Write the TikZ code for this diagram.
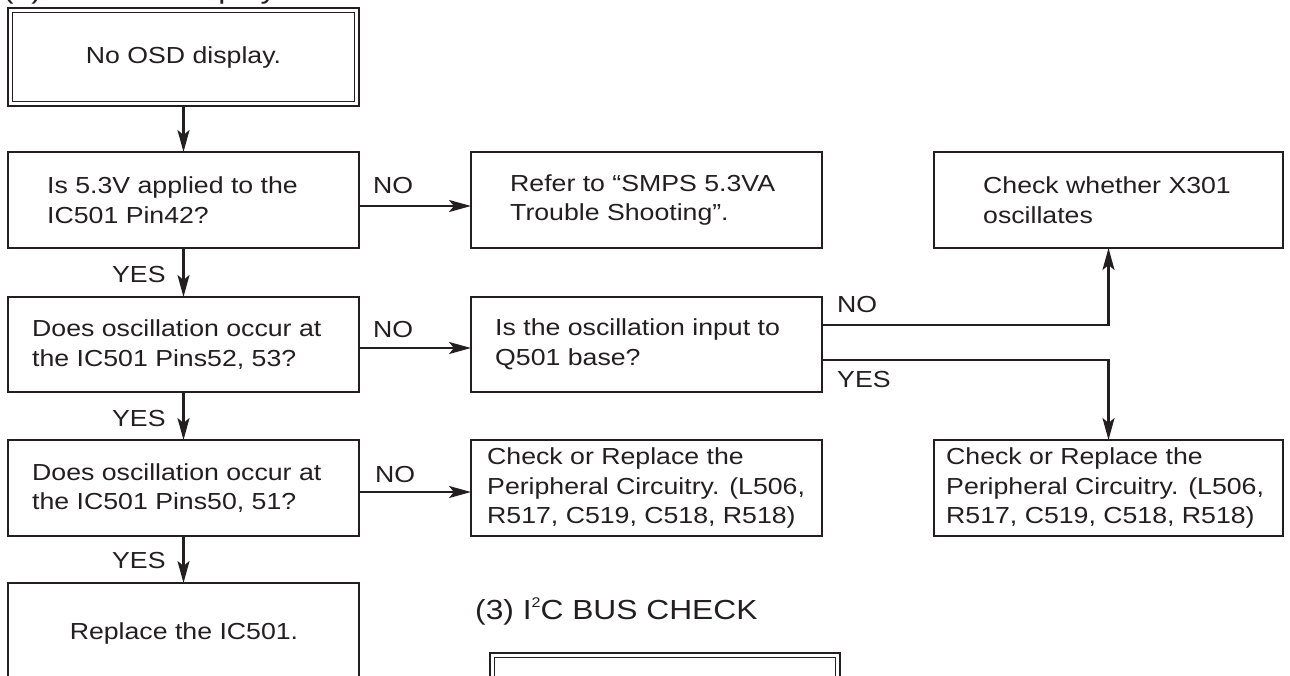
\documentclass[tikz,border=0pt]{standalone}
\usepackage{fontspec}
\setmainfont{Liberation Sans}[FakeStretch=1.15]
\usetikzlibrary{arrows.meta}
\definecolor{ink}{HTML}{231F20}
\begin{document}
\begin{tikzpicture}[x=1pt,y=-1pt,line join=miter,
  box/.style={draw=ink, line width=2pt, anchor=north west, inner sep=0pt, outer sep=0pt},
  dbox/.style={box, line width=2.7pt},
  txt/.style={text=ink, font=\fontsize{23.2}{29.5}\selectfont, align=left, inner sep=0pt, anchor=west},
  ctxt/.style={text=ink, font=\fontsize{23.2}{29.5}\selectfont, inner sep=0pt},
  lbl/.style={text=ink, font=\fontsize{23.2}{25}\selectfont, inner sep=0pt, anchor=base west},
  head/.style={text=ink, font=\fontsize{27.6}{30}\selectfont, inner sep=0pt, anchor=base west},
  arr/.style={draw=ink, line width=2.3pt, -{Stealth[length=22pt,width=12pt,inset=5pt]}}]
\fill[white] (0,0) rectangle (1290,675);
\useasboundingbox (0,0) rectangle (1290,675);
\clip (0,0) rectangle (1290,675);

% heading (cut off at the top)
\node[head] (h2) at (3,-2) {(2) No OSD display};

% boxes
\node[dbox, minimum width=351pt, minimum height=98pt] (A) at (8,8) {};
\draw[ink, line width=1.2pt] ([shift={(4.3pt,-4.3pt)}]A.north west) rectangle ([shift={(-4.3pt,4.3pt)}]A.south east);
\node[ctxt] (At) at (A.center) {No OSD display.};

\node[box, minimum width=351pt, minimum height=96pt] (B) at (8,152) {};
\node[txt] (Bt) at ([xshift=39pt]B.west) {Is 5.3V applied to the\\IC501 Pin42?};

\node[box, minimum width=351pt, minimum height=96pt] (C) at (471,152) {};
\node[txt] (Ct) at ([xshift=39pt]C.west) {Refer to “SMPS 5.3VA\\Trouble Shooting”.};

\node[box, minimum width=349pt, minimum height=96pt] (D) at (934,152) {};
\node[txt] (Dt) at ([xshift=49pt]D.west) {Check whether X301\\oscillates};

\node[box, minimum width=351pt, minimum height=95pt] (E) at (8,297) {};
\node[txt] (Et) at ([xshift=24pt]E.west) {Does oscillation occur at\\the IC501 Pins52, 53?};

\node[box, minimum width=351pt, minimum height=95pt] (F) at (471,297) {};
\node[txt] (Ft) at ([xshift=24pt]F.west) {Is the oscillation input to\\Q501 base?};

\node[box, minimum width=351pt, minimum height=96pt] (G) at (8,440) {};
\node[txt] (Gt) at ([xshift=24pt]G.west) {Does oscillation occur at\\the IC501 Pins50, 51?};

\node[box, minimum width=351pt, minimum height=96pt] (H) at (471,440) {};
\node[txt] (Ht) at ([xshift=16pt]H.west) {Check or Replace the\\Peripheral Circuitry. (L506,\\R517, C519, C518, R518)};

\node[box, minimum width=349pt, minimum height=96pt] (I) at (934,440) {};
\node[txt] (It) at ([xshift=12pt]I.west) {Check or Replace the\\Peripheral Circuitry. (L506,\\R517, C519, C518, R518)};

\node[box, minimum width=351pt, minimum height=110pt] (J) at (8,583) {};
\node[ctxt] (Jt) at (184,633) {Replace the IC501.};

\node[head] (h3) at (475,619) {(3) I\raisebox{0.4em}{\fontsize{14}{14}\selectfont 2}C BUS CHECK};

\node[dbox, minimum width=350pt, minimum height=110pt] (K) at (490,653) {};
\draw[ink, line width=1.2pt] ([shift={(4.3pt,-4.3pt)}]K.north west) rectangle ([shift={(-4.3pt,4.3pt)}]K.south east);

% connectors
\draw[arr] (A.south) -- (B.north);
\draw[arr] ([yshift=-6pt]B.east) -- ([yshift=-6pt]C.west);
\draw[arr] (B.south) -- (E.north);
\draw[arr] ([yshift=-3.5pt]E.east) -- ([yshift=-3.5pt]F.west);
\draw[arr] ([yshift=19.5pt]F.east) -| (D.south);
\draw[arr] ([yshift=-15.5pt]F.east) -| (I.north);
\draw[arr] (E.south) -- (G.north);
\draw[arr] ([yshift=-4pt]G.east) -- ([yshift=-4pt]H.west);
\draw[arr] (G.south) -- (J.north);

% labels
\node[lbl] (n1) at (373,193) {NO};
\node[lbl] (y1) at (112,282) {YES};
\node[lbl] (n2) at (373,337) {NO};
\node[lbl] (y2) at (112,426) {YES};
\node[lbl] (n3) at (375,482) {NO};
\node[lbl] (y3) at (112,568) {YES};
\node[lbl] (n4) at (837,312) {NO};
\node[lbl] (y4) at (837,387) {YES};
\end{tikzpicture}
\end{document}
